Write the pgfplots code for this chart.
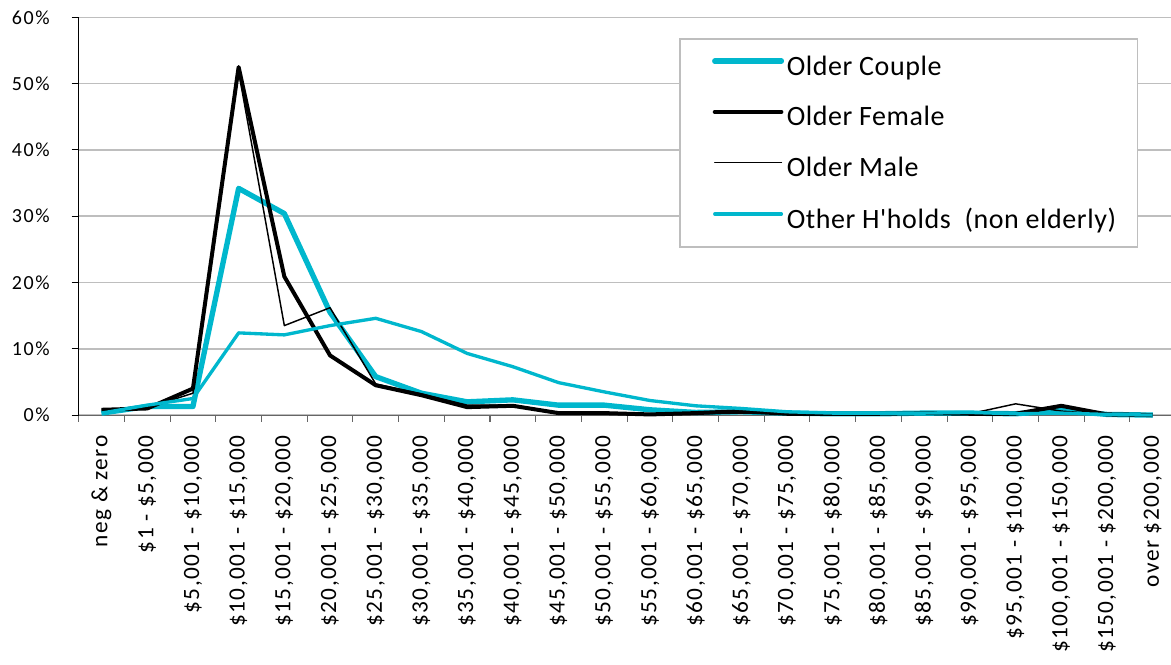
\documentclass[border=0pt]{standalone}
\usepackage{fontspec}
\setmainfont{Carlito}
\newfontfamily\lbl[LetterSpace=8]{Carlito}
\newfontfamily\xlbl[LetterSpace=6]{Carlito}
\newfontfamily\leg[LetterSpace=2]{Carlito}
\usepackage{pgfplots}
\pgfplotsset{compat=1.18}
\definecolor{cy}{RGB}{0,183,205}
\definecolor{gridc}{RGB}{190,190,190}

\pgfplotstableread{
k couple female male other
0 0.3 0.8 0.8 0.3
1 1.3 1.0 1.1 1.5
2 1.3 4.0 3.3 2.5
3 34.2 52.5 51.8 12.4
4 30.4 20.9 13.5 12.1
5 15.5 9.0 16.2 13.5
6 5.8 4.5 4.7 14.6
7 3.3 3.0 3.2 12.6
8 2.0 1.2 1.5 9.3
9 2.3 1.4 1.5 7.3
10 1.5 0.3 0.3 4.9
11 1.5 0.3 0.3 3.5
12 0.8 0.1 0.2 2.2
13 0.4 0.3 0.2 1.4
14 0.5 0.6 0.3 1.0
15 0.3 0.2 0.2 0.5
16 0.2 0.2 0.2 0.3
17 0.2 0.2 0.2 0.3
18 0.3 0.3 0.3 0.3
19 0.3 0.2 0.2 0.4
20 0.2 0.2 1.7 0.2
21 0.7 1.4 0.6 0.3
22 0.1 0.1 0.1 0.1
23 0.0 0.0 0.0 0.0
}\data

\begin{document}
\begin{tikzpicture}
\useasboundingbox (-59.0pt,-186.75pt) rectangle (819.2pt,311.3pt);
\begin{axis}[
  at={(0,0)}, anchor=south west, scale only axis,
  width=819.2pt, height=298.3pt,
  xmin=-0.5, xmax=23.4, ymin=0, ymax=60,
  axis x line*=bottom, axis y line*=left,
  axis line style={-},
  x axis line style={draw=black!60, line width=0.8pt},
  y axis line style={draw=black, line width=0.8pt},
  tick align=outside,
  ytick={0,10,20,30,40,50,60},
  yticklabels={0\%,10\%,20\%,30\%,40\%,50\%,60\%},
  yticklabel style={font=\lbl\fontsize{15}{18}\selectfont, xshift=-13pt},
  major tick length=5.2pt,
  minor tick length=5pt,
  major y tick style={draw=black, line width=0.8pt},
  xtick={0,...,23},
  major x tick style={draw=none},
  minor xtick={-0.5,0.5,...,22.5},
  minor x tick style={draw=black!60, line width=0.8pt},
  xticklabels={neg \& zero,{\$1 - \$5,000},{\$5,001 - \$10,000},{\$10,001 - \$15,000},{\$15,001 - \$20,000},{\$20,001 - \$25,000},{\$25,001 - \$30,000},{\$30,001 - \$35,000},{\$35,001 - \$40,000},{\$40,001 - \$45,000},{\$45,001 - \$50,000},{\$50,001 - \$55,000},{\$55,001 - \$60,000},{\$60,001 - \$65,000},{\$65,001 - \$70,000},{\$70,001 - \$75,000},{\$75,001 - \$80,000},{\$80,001 - \$85,000},{\$85,001 - \$90,000},{\$90,001 - \$95,000},{\$95,001 - \$100,000},{\$100,001 - \$150,000},{\$150,001 - \$200,000},{over \$200,000}},
  xticklabel style={rotate=90, anchor=east, inner xsep=10pt, font=\xlbl\fontsize{17.5}{21}\selectfont},
  ymajorgrids,
  major grid style={draw=gridc, line width=1.1pt},
  legend style={at={(0.5499,0.9472)}, anchor=north west, draw=gridc, line width=1.1pt,
    font=\leg\fontsize{21}{25}\selectfont, inner xsep=14pt, inner ysep=10.5pt, row sep=18pt},
  legend cell align=left,
  legend image code/.code={\path (0pt,0pt); \draw[#1, line cap=round] (10pt,0.4em) -- (60pt,0.4em);},
  clip=false,
]
\addplot[cy, line width=4pt, line join=round] table[x=k, y=couple] {\data};
\addlegendentry{Older Couple}
\addplot[black, line width=3pt, line join=round] table[x=k, y=female] {\data};
\addlegendentry{Older Female}
\addplot[black, line width=1.1pt, line join=round] table[x=k, y=male] {\data};
\addlegendentry{Older Male}
\addplot[cy, line width=2.5pt, line join=round] table[x=k, y=other] {\data};
\addlegendentry{Other H'holds\ \ (non elderly)}
\end{axis}
\end{tikzpicture}
\end{document}
